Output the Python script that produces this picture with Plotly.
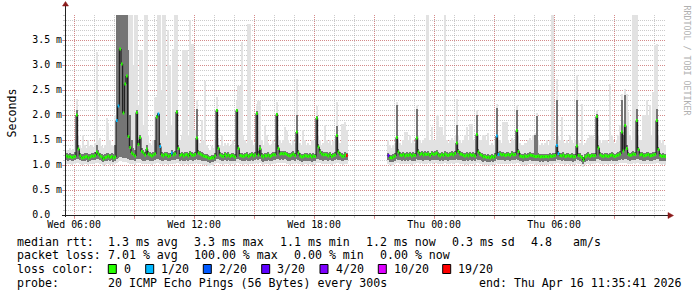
import plotly.graph_objects as go
import pandas as pd

# ---------------- data (values in 1/100 ms, one per 300 s step) ----------------
START = "2026-04-15 05:35:41"
END = "2026-04-16 11:35:41"
STEP_S = 300
GAP = [None] * 24  # no data (steps 169..192)

# median rtt
med = [
118,116,117,115,116,117,200,132,118,114,115,116,
117,114,116,118,117,119,126,122,118,116,112,115,
116,118,115,117,114,116,189,218,332,302,204,262,
278,157,135,124,121,118,205,141,155,127,124,120,
132,122,120,118,120,122,196,202,137,120,118,121,
120,117,119,124,120,122,206,133,119,121,118,120,
121,118,123,120,119,121,154,124,122,120,118,117,
116,114,113,115,114,118,209,133,120,118,117,121,
118,120,117,119,118,116,209,133,119,118,117,119,
120,117,119,121,118,120,203,120,133,118,116,119,
118,120,117,119,121,120,201,133,122,123,122,123,
121,119,118,120,122,119,166,124,118,116,117,119,
118,117,119,116,118,117,194,136,126,122,120,121,
120,118,121,117,119,120,159,126,121,118,117,120,
119] + GAP + [
119,115,114,116,118,155,126,120,119,121,118,
120,119,121,118,120,119,154,126,121,123,120,122,
121,122,119,123,121,122,124,120,118,121,119,122,
120,119,121,122,120,123,144,127,122,121,119,118,
120,118,121,119,120,118,161,126,121,119,116,117,
115,116,114,117,115,118,158,121,122,120,121,119,
120,121,119,122,120,121,169,127,118,117,116,118,
117,118,120,119,118,117,117,118,116,117,116,117,
117,116,118,117,118,119,139,123,119,118,120,117,
118,119,117,118,116,117,138,119,118,115,110,116,
118,120,117,119,118,119,197,134,120,118,117,119,
118,117,119,120,118,117,119,120,122,166,128,179,
133,121,119,120,122,121,189,131,120,121,118,119,
120,121,118,119,120,121,189,131,119,117,118,117]

# top of dense (dark) smoke
p_hi = [
124,123,124,122,123,126,210,140,125,122,123,124,
124,122,123,125,124,126,140,130,125,123,120,122,
124,125,122,124,122,140,400,400,400,400,400,400,
400,330,200,150,135,130,210,150,160,135,130,126,
140,128,126,124,126,150,200,205,145,126,124,127,
126,124,125,130,126,128,210,140,125,127,124,126,
127,124,129,126,125,127,212,130,128,126,124,123,
122,120,119,121,120,124,212,140,126,124,123,127,
124,126,123,125,124,122,212,140,125,124,123,125,
126,123,125,127,124,126,208,128,140,124,122,125,
124,126,123,125,127,126,205,140,128,129,128,129,
127,125,124,126,128,125,200,130,124,122,123,125,
124,123,125,122,124,123,198,142,132,128,126,127,
126,124,127,123,125,126,179,132,127,124,123,126,
125] + GAP + [
125,121,120,122,124,220,132,126,125,127,124,
126,125,127,124,126,125,213,132,127,129,126,128,
127,128,125,129,127,128,130,126,124,127,125,128,
126,125,127,128,126,129,180,133,128,127,125,124,
126,124,127,125,126,124,200,132,127,125,122,123,
121,122,120,123,121,124,215,127,128,126,127,125,
126,127,125,128,126,127,210,133,124,123,122,124,
123,124,126,125,124,160,199,124,122,123,122,123,
123,122,124,123,124,125,230,129,125,124,126,123,
124,125,123,124,122,123,230,125,124,121,117,122,
124,126,123,125,124,125,203,140,126,124,123,125,
124,123,125,126,124,123,125,126,128,230,160,240,
140,127,125,126,128,127,213,137,126,127,124,125,
126,127,124,125,126,127,213,137,125,123,124,123]

# max ping (top of light smoke)
p_max = [
130,128,135,130,132,150,232,160,140,135,160,140,
135,150,138,140,136,145,326,150,155,138,135,140,
194,185,150,140,138,200,400,400,400,400,400,400,
400,400,400,400,300,400,400,220,330,330,180,400,
400,160,145,140,150,237,237,400,400,250,400,400,
160,370,300,180,333,400,400,170,150,160,330,330,
330,160,390,343,343,170,230,150,145,190,150,269,
140,135,130,138,134,150,236,155,140,160,138,145,
140,145,138,142,150,140,229,259,259,346,160,150,
145,383,383,150,140,145,223,229,229,150,140,180,
160,145,140,142,150,145,226,160,150,145,150,176,
169,150,145,140,150,145,273,160,145,140,170,150,
140,145,140,150,150,150,219,160,150,140,145,180,
150,145,150,140,148,150,226,150,145,183,183,186,
170] + GAP + [
150,140,135,140,145,226,150,145,140,150,166,
166,150,160,145,150,145,220,160,150,145,150,155,
400,400,150,177,150,150,200,200,177,177,160,400,
150,145,150,155,150,160,233,160,150,145,150,160,
177,150,183,183,150,150,210,160,150,150,160,160,
150,165,140,145,140,150,223,150,150,145,186,186,
186,150,145,155,150,150,220,160,145,140,140,145,
145,150,155,150,160,165,205,150,140,145,140,145,
150,140,150,400,400,150,272,160,150,197,150,145,
150,145,160,150,145,150,280,150,145,223,140,145,
150,155,160,160,160,150,210,160,150,145,150,150,
150,145,263,160,150,145,150,160,180,243,190,253,
243,207,160,150,400,400,400,160,150,150,200,200,
230,200,220,160,247,340,343,160,150,145,150,140]

# bottom of dense (dark) smoke
p_lo = [
110,109,110,108,109,110,112,112,110,108,108,109,
110,107,109,110,110,111,112,112,110,109,106,108,
109,110,108,110,107,109,112,114,116,116,115,114,
114,112,111,110,110,109,112,112,112,110,109,109,
111,110,109,108,109,110,112,113,111,109,108,110,
110,108,109,111,110,110,112,112,109,110,108,109,
110,108,111,110,109,110,112,111,110,109,108,108,
108,106,105,107,106,109,112,112,110,109,108,110,
109,110,108,109,109,108,112,112,110,109,108,109,
110,108,109,110,109,110,112,110,112,109,107,109,
109,110,108,109,110,110,112,112,111,112,111,112,
111,109,108,110,111,109,112,111,109,107,108,109,
109,108,109,107,108,108,112,112,111,110,109,110,
110,109,110,108,109,110,112,111,110,109,108,110,
110] + GAP + [
110,107,106,107,109,112,111,110,109,110,109,
110,109,110,108,109,109,112,111,110,111,109,110,
110,111,109,111,110,111,111,110,109,110,109,111,
110,109,110,111,110,111,112,111,110,110,109,108,
110,108,110,109,110,108,112,111,110,109,107,108,
107,107,106,108,107,108,112,110,110,110,110,109,
110,110,109,111,110,110,112,111,109,108,107,108,
108,109,110,109,109,108,108,109,107,108,107,108,
108,107,109,108,109,109,112,111,110,109,110,108,
109,109,108,109,107,108,112,110,109,106,103,107,
109,110,108,109,109,109,112,112,110,109,108,109,
109,108,109,110,109,108,109,110,111,112,111,112,
112,110,109,110,111,110,112,112,110,110,109,109,
110,110,109,109,110,110,112,112,109,108,109,108]

# min ping (bottom of light smoke)
p_min = [
103,102,103,101,102,102,104,104,103,101,101,102,
103,100,102,103,103,104,105,105,103,102,99,101,
102,103,101,103,100,102,104,106,108,108,107,106,
106,104,103,102,102,101,104,104,104,102,102,102,
103,102,102,101,102,103,104,105,103,102,101,102,
102,101,102,103,102,103,104,104,102,103,101,102,
103,101,103,102,102,103,104,103,103,102,101,101,
101,99,98,100,99,102,104,104,103,102,101,103,
102,103,101,102,102,101,104,104,103,102,101,102,
103,101,102,103,102,103,104,103,104,102,100,102,
102,103,101,102,103,103,104,104,104,104,104,104,
103,102,101,102,103,102,104,103,102,100,101,102,
102,101,102,100,101,101,104,104,104,103,102,103,
103,102,103,101,102,103,104,104,103,102,101,103,
103] + GAP + [
103,100,99,100,102,104,104,103,102,103,102,
103,102,103,101,102,102,104,104,103,104,102,103,
103,104,102,104,103,104,104,103,102,103,102,104,
103,102,103,104,103,104,104,104,103,103,102,101,
103,101,103,102,103,101,104,104,103,102,100,101,
100,100,99,101,100,101,104,103,103,103,103,102,
103,103,102,104,103,103,104,104,102,101,100,101,
101,102,103,102,102,101,101,102,100,101,100,101,
101,100,102,101,102,102,104,104,103,102,103,101,
102,102,101,102,100,101,104,103,102,99,96,100,
102,103,101,102,102,102,104,104,103,102,101,102,
102,101,102,103,102,101,102,103,104,104,104,104,
104,103,102,103,104,103,104,104,103,103,102,102,
103,103,102,102,103,103,104,104,102,101,102,101]

# packet loss (pings lost out of 20) at the steps that had loss
loss_idx = [30, 31, 55, 56, 63, 168, 193, 258, 259, 294, 295]
loss_cnt = [1, 1, 1, 1, 1, 19, 3, 1, 1, 1, 1]

# legend / text
loss_labels = ["0", "1/20", "2/20", "3/20", "4/20", "10/20", "19/20"]
loss_levels = [0, 1, 2, 3, 4, 10, 19]
loss_colors = ["#26ff00", "#00b8ff", "#0059ff", "#5e00ff", "#7e00ff", "#dd00ff", "#ff0000"]
rtt_line = ["median rtt:", "1.3 ms avg", "3.3 ms max", "1.1 ms min", "1.2 ms now", "0.3 ms sd", "4.8", "am/s"]
loss_line = ["packet loss:", "7.01 % avg", "100.00 % max", "0.00 % min", "0.00 % now"]
probe_line = ["probe:", "20 ICMP Echo Pings (56 Bytes) every 300s", "end: Thu Apr 16 11:35:41 2026"]
y_ticks = [0.0, 0.5, 1.0, 1.5, 2.0, 2.5, 3.0, 3.5]
y_ticktext = ["0.0\u00a0\u00a0", "0.5 m", "1.0 m", "1.5 m", "2.0 m", "2.5 m", "3.0 m", "3.5 m"]

# ---------------- styling ----------------
FONT = "DejaVu Sans Mono"
FS = 11.6      # legend text
TFS = 9.9      # axis tick labels
LIGHT = "#e2e2e2"
DARK = "#757575"
MGRID = "rgba(222,48,48,0.42)"
GRID = "rgba(140,140,140,0.45)"
ARROW = "#8b1a1a"
L, T, W, H = 66, 15, 600, 200


def px(x):
    return (x - L) / W


def py(y):
    return (T + H - y) / H


n = len(med)
t0 = pd.Timestamp(START)
step = pd.Timedelta(seconds=STEP_S)
starts = [t0 + step * i for i in range(n)]
centers = [s + step / 2 for s in starts]
ends = [s + step for s in starts]
STEP_MS = STEP_S * 1000

fig = go.Figure()
ok = [i for i in range(n) if med[i] is not None]

fig.add_trace(go.Bar(
    x=[centers[i] for i in ok], base=[p_min[i] / 100 for i in ok],
    y=[(p_max[i] - p_min[i]) / 100 for i in ok], width=[STEP_MS] * len(ok),
    marker=dict(color=LIGHT, line=dict(width=0)), hoverinfo="skip"))
fig.add_trace(go.Bar(
    x=[centers[i] for i in ok], base=[p_lo[i] / 100 for i in ok],
    y=[(p_hi[i] - p_lo[i]) / 100 for i in ok], width=[STEP_MS] * len(ok),
    marker=dict(color=DARK, line=dict(width=0)), hoverinfo="skip"))
fig.add_trace(go.Scatter(
    x=starts, y=[None if v is None else v / 100 for v in med], mode="lines",
    line=dict(color="#111111", width=1, shape="hv"), hoverinfo="skip"))

loss = [0] * n
for i, c in zip(loss_idx, loss_cnt):
    loss[i] = c


def level(c):
    lv = 0
    for l in loss_levels:
        if c >= l:
            lv = l
    return lv


for lv, col in zip(loss_levels, loss_colors):
    xs, ys = [], []
    for i in ok:
        if level(loss[i]) == lv:
            xs += [starts[i], ends[i], None]
            ys += [med[i] / 100, med[i] / 100, None]
    if xs:
        fig.add_trace(go.Scatter(x=xs, y=ys, mode="lines",
                                 line=dict(color=col, width=3), hoverinfo="skip"))

# x ticks: major grid every 3 h, labels every 6 h
tv = list(pd.date_range("2026-04-15 06:00", "2026-04-16 09:00", freq="3h"))
tt = [t.strftime("%a %H:%M") if t.hour % 6 == 0 else "" for t in tv]

fig.update_layout(
    width=697, height=297, autosize=False,
    margin=dict(l=L, r=697 - L - W, t=T, b=297 - T - H, pad=0),
    paper_bgcolor="white", plot_bgcolor="white", showlegend=False,
    barmode="overlay", bargap=0,
    font=dict(family=FONT, size=FS, color="black"),
    xaxis=dict(type="date", range=[START, END], tickmode="array", tickvals=tv, ticktext=tt,
               showgrid=True, gridcolor=MGRID, griddash="1px,1px", gridwidth=1,
               ticks="outside", ticklen=3, tickcolor=MGRID, showline=False, zeroline=False,
               ticklabelstandoff=-3,
               tickfont=dict(family=FONT, size=TFS, color="black"),
               minor=dict(tickmode="linear", tick0="2026-04-15 06:00", dtick=3600000,
                          showgrid=True, gridcolor=GRID, griddash="1px,1px", gridwidth=1,
                          ticks="outside", ticklen=2, tickcolor=GRID)),
    yaxis=dict(range=[0, 4], tickmode="array", tickvals=y_ticks, ticktext=y_ticktext,
               showgrid=True, gridcolor=MGRID, griddash="1px,1px", gridwidth=1,
               ticks="outside", ticklen=3, tickcolor=MGRID, showline=False, zeroline=False,
               ticklabelstandoff=-2,
               tickfont=dict(family=FONT, size=TFS, color="black"),
               minor=dict(tickmode="linear", tick0=0, dtick=0.1, showgrid=True,
                          gridcolor=GRID, griddash="1px,1px", gridwidth=1,
                          ticks="outside", ticklen=2, tickcolor=GRID)),
)

shapes = [
    dict(type="line", xref="paper", yref="paper", x0=px(65.5), x1=px(65.5), y0=py(217), y1=py(5),
         line=dict(color="#222222", width=1)),
    dict(type="line", xref="paper", yref="paper", x0=px(62), x1=px(668), y0=py(215.5), y1=py(215.5),
         line=dict(color="#222222", width=1)),
    dict(type="path", xref="paper", yref="paper",
         path=f"M{px(62.5)},{py(6)} L{px(68.5)},{py(6)} L{px(65.5)},{py(1.5)} Z",
         fillcolor=ARROW, line=dict(color=ARROW, width=0.5)),
    dict(type="path", xref="paper", yref="paper",
         path=f"M{px(668)},{py(212.5)} L{px(668)},{py(218.5)} L{px(673.5)},{py(215.5)} Z",
         fillcolor=ARROW, line=dict(color=ARROW, width=0.5)),
]

ann = []


def text(x, y, s, **kw):
    d = dict(xref="paper", yref="paper", x=px(x), y=py(y), text=s, showarrow=False,
             xanchor="left", yanchor="middle", borderpad=0,
             font=dict(family=FONT, size=FS, color="black"))
    d.update(kw)
    ann.append(d)


for s, x in zip(rtt_line, [16, 107.3, 193.3, 279.3, 365, 451, 530, 572.3]):
    text(x, 241.7, s)
for s, x in zip(loss_line, [16, 107.3, 193.3, 293.3, 379.3]):
    text(x, 255.3, s)
text(16, 269.3, "loss color:")
box_x = [108.3, 145.7, 203.3, 261.7, 320, 378.3, 442.7]
for lab, col, bx in zip(loss_labels, loss_colors, box_x):
    shapes.append(dict(type="rect", xref="paper", yref="paper", x0=px(bx), x1=px(bx + 8),
                       y0=py(273.5), y1=py(264.5), fillcolor=col, line=dict(color="black", width=1)))
    text(bx + 14.7, 269.3, lab)
for s, x in zip(probe_line, [16, 107.3, 478.3]):
    text(x, 283.3, s)

ann.append(dict(xref="paper", yref="paper", x=px(11), y=py(113.5), text="Seconds",
                showarrow=False, textangle=-90, xanchor="center", yanchor="middle",
                font=dict(family=FONT, size=FS, color="black")))
ann.append(dict(xref="paper", yref="paper", x=px(686.5), y=py(60), text="RRDTOOL / TOBI OETIKER",
                showarrow=False, textangle=90, xanchor="center", yanchor="middle",
                font=dict(family=FONT, size=8.3, color="#b0b0b0")))

fig.update_layout(shapes=shapes, annotations=ann)
fig.write_html("out.html")
